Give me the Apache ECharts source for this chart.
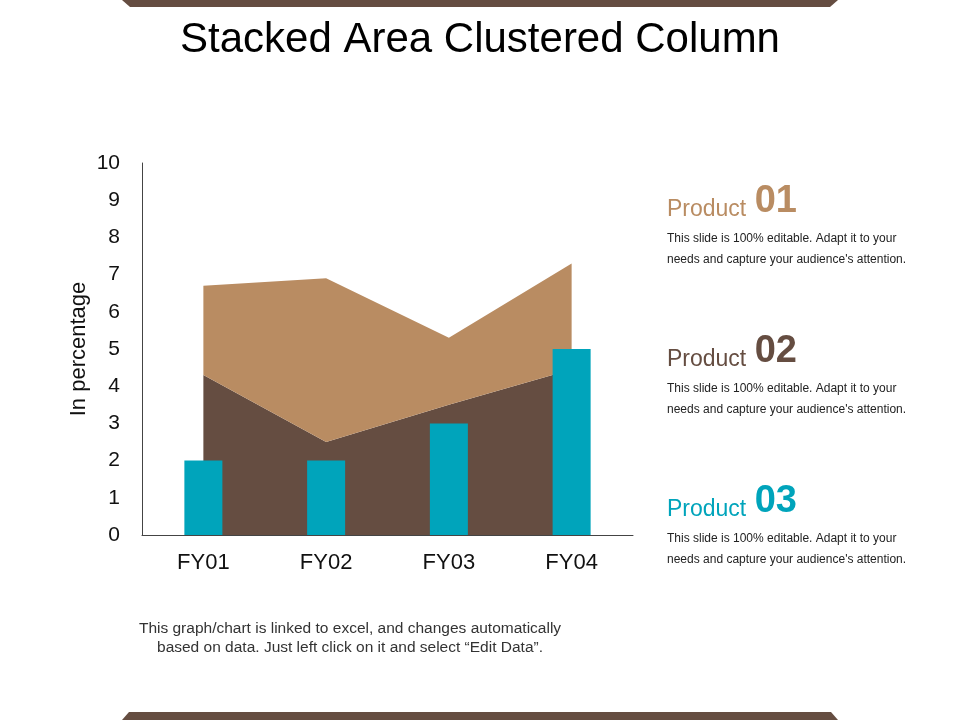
<!DOCTYPE html>
<html>
<head>
<meta charset="utf-8">
<script src="https://cdn.jsdelivr.net/npm/echarts@6/dist/echarts.min.js"></script>
<style>
  html, body { margin: 0; padding: 0; background: #fff; }
  #main { width: 960px; height: 720px; }
</style>
</head>
<body>
<div id="main"></div>
<script>
var categories = ['FY01', 'FY02', 'FY03', 'FY04'];
// stacked areas: bottom layer first
var product02 = [4.3, 2.5, 3.5, 4.45];
var product01 = [2.4, 4.4, 1.8, 2.85];
// columns
var product03 = [2, 2, 3, 5];
var yTicks = [0, 10, 1];

var brownDark = '#654d41';
var brownLight = '#b98c62';
var teal = '#00a4bb';

var myChart = echarts.init(document.getElementById('main'));

// text blocks on the right
function productBlock(num, color, top) {
    return [
        {
            type: 'text', left: 667, top: top,
            style: {
                text: '{a|Product }{b|' + num + '}',
                rich: {
                    a: { fontSize: 23, fill: color, fontFamily: 'Liberation Sans', verticalAlign: 'bottom', padding: [0, 2, 0, 0] },
                    b: { fontSize: 38, fontWeight: 'bold', fill: color, fontFamily: 'Liberation Sans', verticalAlign: 'bottom' }
                }
            }
        },
        {
            type: 'text', left: 667, top: top + 45,
            style: {
                text: "This slide is 100% editable. Adapt it to your\nneeds and capture your audience's attention.",
                fontSize: 12, lineHeight: 21, fill: '#222', fontFamily: 'Liberation Sans'
            }
        }
    ];
}

var graphics = [
    { type: 'polygon', shape: { points: [[122, 0], [838, 0], [830, 7], [130, 7]] }, style: { fill: brownDark } },
    { type: 'polygon', shape: { points: [[129, 712], [831, 712], [838, 720], [122, 720]] }, style: { fill: brownDark } },
    {
        type: 'text', x: 350, y: 619,
        style: {
            text: 'This graph/chart is linked to excel, and changes automatically\nbased on data. Just left click on it and select \u201cEdit Data\u201d.',
            fontSize: 15.5, lineHeight: 19, fill: '#333', align: 'center', fontFamily: 'Liberation Sans'
        }
    }
].concat(productBlock('01', brownLight, 183))
 .concat(productBlock('02', brownDark, 333))
 .concat(productBlock('03', teal, 483));

var option = {
    animation: false,
    backgroundColor: '#fff',
    title: {
        text: 'Stacked Area Clustered Column',
        left: 'center',
        top: 14,
        textStyle: { fontSize: 42, fontWeight: 'normal', color: '#000', fontFamily: 'Liberation Sans' }
    },
    graphic: graphics,
    grid: { left: 142, right: 327, top: 163, bottom: 185 },
    xAxis: {
        type: 'category',
        data: categories,
        axisLine: { lineStyle: { color: '#444', width: 1 } },
        axisTick: { show: false },
        axisLabel: { fontSize: 22, color: '#111', margin: 17, fontFamily: 'Liberation Sans' }
    },
    yAxis: {
        type: 'value',
        min: yTicks[0], max: yTicks[1], interval: yTicks[2],
        name: 'In percentage',
        nameLocation: 'middle',
        nameGap: 52,
        nameMoveOverlap: false,
        nameTextStyle: { fontSize: 22, color: '#111', fontFamily: 'Liberation Sans' },
        axisLine: { show: true, lineStyle: { color: '#444', width: 1 } },
        axisTick: { show: false },
        splitLine: { show: false },
        axisLabel: { fontSize: 21, color: '#111', margin: 22, fontFamily: 'Liberation Sans' }
    },
    series: [
        {
            name: 'Product 02', type: 'line', stack: 'area', data: product02,
            showSymbol: false, lineStyle: { width: 0 },
            areaStyle: { color: brownDark, opacity: 1 }, z: 1
        },
        {
            name: 'Product 01', type: 'line', stack: 'area', data: product01,
            showSymbol: false, lineStyle: { width: 0 },
            areaStyle: { color: brownLight, opacity: 1 }, z: 1
        },
        {
            name: 'Product 03', type: 'bar', data: product03,
            barWidth: 38, itemStyle: { color: teal }, z: 3
        }
    ]
};

myChart.setOption(option);
</script>
</body>
</html>
